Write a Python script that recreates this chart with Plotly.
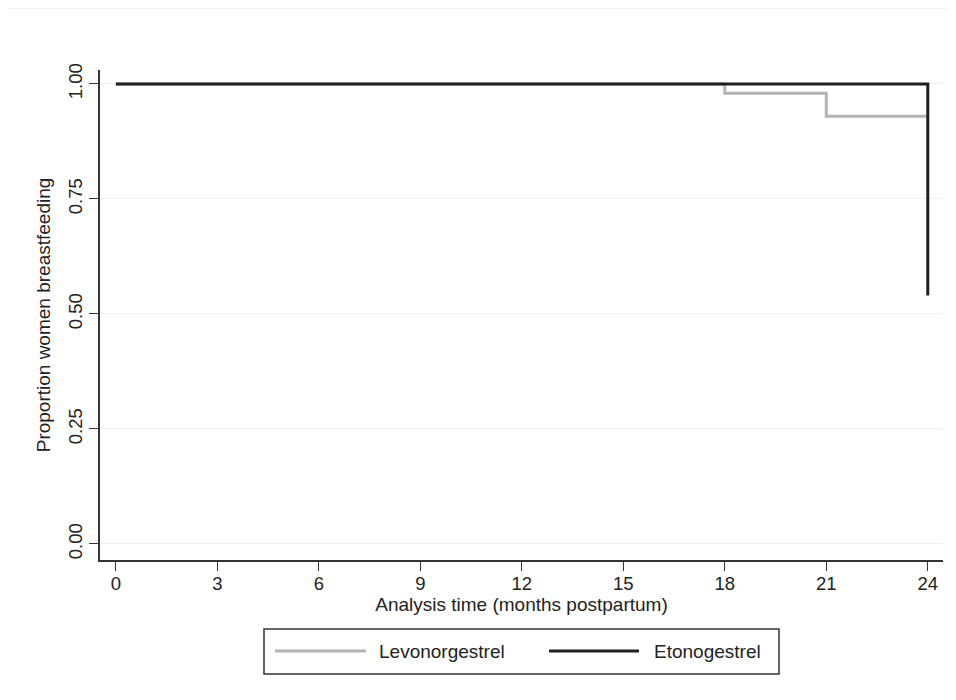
import plotly.graph_objects as go

# Data
levo_time = [0, 18, 21, 24]
levo_surv = [1.00, 0.98, 0.93, 0.93]
eto_time = [0, 24, 24]
eto_surv = [1.00, 1.00, 0.54]

x_ticks = [0, 3, 6, 9, 12, 15, 18, 21, 24]
y_ticks = [0.00, 0.25, 0.50, 0.75, 1.00]
y_labels = ["0.00", "0.25", "0.50", "0.75", "1.00"]
series_names = ["Levonorgestrel", "Etonogestrel"]
gray = "#b3b3b5"
black = "#231f20"

OFF = 8  # page body margin
W, H = 956 - OFF, 700 - OFF
L, R, T, B = 100 - OFF, 943 - OFF, 70 - OFF, 560 - OFF  # plot area in figure pixels


def px(x):
    return (x - OFF - L) / (R - L)


def py(y):
    return (B - (y - OFF)) / (B - T)


fig = go.Figure()
fig.add_trace(go.Scatter(x=levo_time, y=levo_surv, mode="lines", line_shape="hv",
                         line=dict(color=gray, width=3), name=series_names[0], showlegend=False))
fig.add_trace(go.Scatter(x=eto_time, y=eto_surv, mode="lines", line_shape="hv",
                         line=dict(color=black, width=3), name=series_names[1], showlegend=False))

fam = "Liberation Sans, Arial, Helvetica, sans-serif"
font = dict(family=fam, size=19, color="#222")
tfont = dict(family=fam, size=18.5, color="#222")

fig.update_layout(
    width=W, height=H,
    margin=dict(l=L, r=W - R, t=T, b=H - B),
    paper_bgcolor="white", plot_bgcolor="white",
    font=font,
    xaxis=dict(range=[-0.47, 24.45], tickvals=x_ticks, ticks="outside", ticklen=9,
               tickwidth=1.2, tickcolor="#333", showline=True, linecolor="#333", linewidth=1.5,
               showgrid=False, zeroline=False, ticklabelstandoff=-3,
               title=dict(text="Analysis time (months postpartum)", standoff=1, font=font),
               tickfont=tfont),
    yaxis=dict(range=[-0.0348, 1.0304], tickvals=y_ticks, ticktext=y_labels, tickangle=-90,
               ticks="outside", ticklen=9, tickwidth=1.2, tickcolor="#333",
               showline=True, linecolor="#333", linewidth=1.5,
               showgrid=True, gridcolor="#f1f1f1", gridwidth=1, zeroline=False,
               title=dict(text="Proportion women breastfeeding", standoff=9, font=font),
               tickfont=tfont),
)

shapes = []
# faint outer frame (top and left)
shapes.append(dict(type="line", xref="paper", yref="paper", x0=px(7), x1=px(960), y0=py(8), y1=py(8),
                   line=dict(color="#f0f0f0", width=1.5)))
shapes.append(dict(type="line", xref="paper", yref="paper", x0=px(7), x1=px(7), y0=py(8), y1=py(704),
                   line=dict(color="#f0f0f0", width=1.5)))
# legend box
shapes.append(dict(type="rect", xref="paper", yref="paper", x0=px(264), x1=px(779), y0=py(674), y1=py(629),
                   line=dict(color="#333", width=1.5), fillcolor="white"))
shapes.append(dict(type="line", xref="paper", yref="paper", x0=px(275), x1=px(366), y0=py(651), y1=py(651),
                   line=dict(color=gray, width=3)))
shapes.append(dict(type="line", xref="paper", yref="paper", x0=px(549), x1=px(639), y0=py(651), y1=py(651),
                   line=dict(color=black, width=3)))
fig.update_layout(shapes=shapes)

fig.add_annotation(xref="paper", yref="paper", x=px(377), y=py(651), xanchor="left", yanchor="middle",
                   text=series_names[0], showarrow=False, font=font)
fig.add_annotation(xref="paper", yref="paper", x=px(652), y=py(651), xanchor="left", yanchor="middle",
                   text=series_names[1], showarrow=False, font=font)

fig.write_html("out.html")
